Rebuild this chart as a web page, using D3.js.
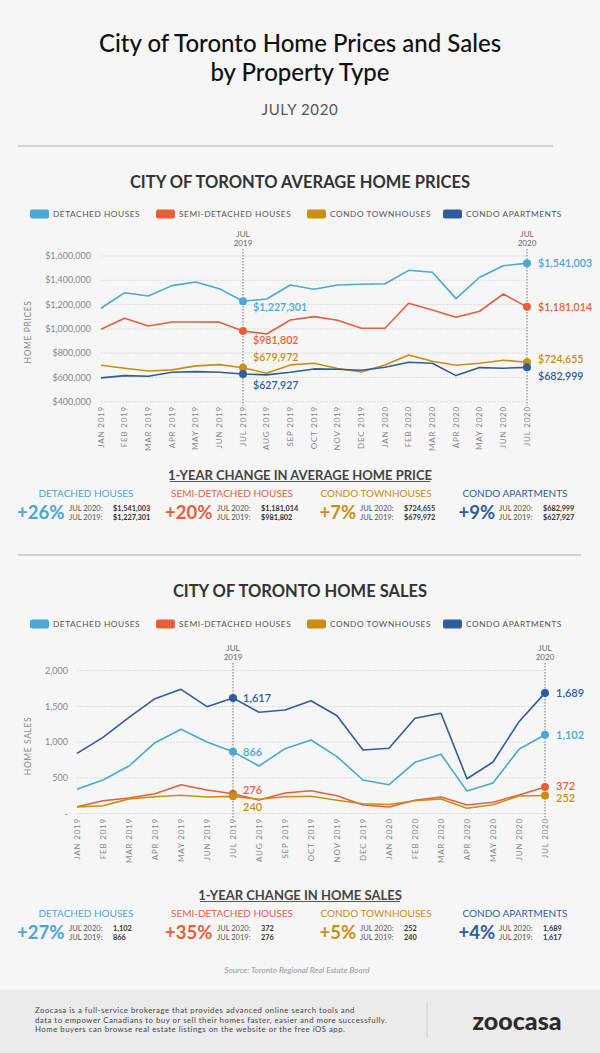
<!DOCTYPE html>
<html><head><meta charset="utf-8">
<script src="https://cdn.jsdelivr.net/npm/d3@7"></script>
<style>
html,body{margin:0;padding:0;background:#f6f6f6;}
svg{display:block;font-family:Lato,"Open Sans",sans-serif;}
</style></head>
<body>
<svg id="c" width="600" height="1053"></svg>
<script>
// ---------- DATA ----------
const months = ["JAN 2019","FEB 2019","MAR 2019","APR 2019","MAY 2019","JUN 2019","JUL 2019","AUG 2019","SEP 2019","OCT 2019","NOV 2019","DEC 2019","JAN 2020","FEB 2020","MAR 2020","APR 2020","MAY 2020","JUN 2020","JUL 2020"];
const seriesNames = ["DETACHED HOUSES","SEMI-DETACHED HOUSES","CONDO TOWNHOUSES","CONDO APARTMENTS"];
const seriesColors = ["#4aa8d3","#e55f3d","#c98e12","#2f5d9b"];

const priceDetached = [1170000,1298000,1271000,1356000,1386000,1331000,1227301,1246000,1361000,1326000,1361000,1367000,1372000,1482000,1466000,1249000,1425000,1520000,1541003];
const priceSemi     = [997000,1087000,1024000,1057000,1057000,1055000,981802,958000,1073000,1101000,1071000,1005000,1005000,1211000,1156000,1095000,1145000,1287000,1181014];
const priceTown     = [700000,676000,653000,662000,695000,705000,679972,634000,703000,717000,673000,645000,703000,785000,733000,700000,717000,742000,724655];
const priceApt      = [596000,615000,609000,643000,648000,643000,627927,621000,643000,670000,667000,659000,684000,725000,717000,615000,681000,676000,682999];

const salesDetached = [339,469,665,992,1179,1001,866,665,908,1029,796,469,403,717,829,315,427,899,1102];
const salesSemi     = [95,179,217,277,403,329,276,189,287,319,249,119,91,185,231,119,157,259,372];
const salesTown     = [90,109,205,235,255,231,240,199,235,241,185,137,125,179,203,73,123,245,252];
const salesApt      = [843,1067,1347,1608,1739,1496,1617,1417,1450,1580,1370,889,913,1333,1403,487,721,1286,1689];

const priceTicks = [400000,600000,800000,1000000,1200000,1400000,1600000];
const salesTicks = [0,500,1000,1500,2000];

const priceChange = ["+26%","+20%","+7%","+9%"];
const price2020 = ["$1,541,003","$1,181,014","$724,655","$682,999"];
const price2019 = ["$1,227,301","$981,802","$679,972","$627,927"];
const salesChange = ["+27%","+35%","+5%","+4%"];
const sales2020 = ["1,102","372","252","1,689"];
const sales2019 = ["866","276","240","1,617"];

// ---------- DRAW ----------
const svg = d3.select("#c");
const light = "#888";

svg.append("rect").attr("x",0).attr("y",990).attr("width",600).attr("height",63).attr("fill","#ebebeb");

function txt(x,y,s,o){
  const t = svg.append("text").attr("x",x).attr("y",y).attr("dy","0.35em").text(s);
  Object.entries(o||{}).forEach(([k,v])=>t.attr(k,v));
  return t;
}
txt(300,44,"City of Toronto Home Prices and Sales",{"text-anchor":"middle","font-size":24,"font-weight":500,fill:"#111"});
txt(300,73,"by Property Type",{"text-anchor":"middle","font-size":24,"font-weight":500,fill:"#111"});
txt(300,110,"JULY 2020",{"text-anchor":"middle","font-size":15,fill:"#555","letter-spacing":0.6});
svg.append("line").attr("x1",18).attr("x2",553).attr("y1",146).attr("y2",146).attr("stroke","#aaa").attr("stroke-width",1);

function legend(y){
  const xs=[30,156,307,443];
  seriesNames.forEach((n,i)=>{
    svg.append("rect").attr("x",xs[i]).attr("y",y-4.5).attr("width",19).attr("height",9).attr("rx",2).attr("fill",seriesColors[i]);
    txt(xs[i]+23,y,n,{"font-size":8.3,fill:"#555","letter-spacing":0.55});
  });
}

function chart(cfg){
  const x = d3.scalePoint().domain(months).range([cfg.x0,cfg.x1]);
  const y = d3.scaleLinear().domain(cfg.domain).range([cfg.yb,cfg.yt]);
  const g = svg.append("g");
  g.selectAll("line.grid").data(cfg.ticks).join("line")
    .attr("x1",cfg.x0).attr("x2",cfg.x1).attr("y1",d=>y(d)).attr("y2",d=>y(d))
    .attr("stroke","#dcdcdc").attr("stroke-width",1).attr("stroke-dasharray","2,1");
  g.selectAll("text.yl").data(cfg.ticks).join("text")
    .attr("x",cfg.ylx).attr("y",d=>y(d)).attr("dy","0.35em").attr("text-anchor","end")
    .attr("font-size",9).attr("fill",light).text(cfg.yfmt);
  g.append("text").attr("transform",`translate(28,${cfg.ytitleY}) rotate(-90)`).attr("dy","0.35em")
    .attr("text-anchor","middle").attr("font-size",8.5).attr("fill",light).attr("letter-spacing",0.6).text(cfg.ytitle);
  g.selectAll("text.xl").data(months).join("text")
    .attr("transform",d=>`translate(${x(d)},${cfg.xly}) rotate(-90)`).attr("dy","0.35em")
    .attr("text-anchor","end").attr("font-size",8).attr("fill",light).attr("letter-spacing",0.8).text(d=>d);
  ["JUL 2019","JUL 2020"].forEach(m=>{
    g.append("line").attr("x1",x(m)).attr("x2",x(m)).attr("y1",cfg.vTop).attr("y2",cfg.yb+4)
      .attr("stroke","#777").attr("stroke-width",1).attr("stroke-dasharray","1.5,1.5");
    g.append("text").attr("x",x(m)).attr("y",cfg.vTop-15).attr("dy","0.35em").attr("text-anchor","middle")
      .attr("font-size",8).attr("fill","#666").text("JUL");
    g.append("text").attr("x",x(m)).attr("y",cfg.vTop-6).attr("dy","0.35em").attr("text-anchor","middle")
      .attr("font-size",8).attr("fill","#666").text(m.slice(4));
  });
  const line = d3.line().x((d,i)=>x(months[i])).y(d=>y(d));
  cfg.series.forEach((s,i)=>{
    g.append("path").datum(s).attr("d",line).attr("fill","none").attr("stroke",seriesColors[i]).attr("stroke-width",1.6).attr("stroke-linejoin","round");
  });
  cfg.series.forEach((s,i)=>{
    [6,18].forEach(k=>{
      g.append("circle").attr("cx",x(months[k])).attr("cy",y(s[k])).attr("r",4).attr("fill",seriesColors[i]);
    });
  });
  cfg.series.forEach((s,i)=>{
    g.append("text").attr("x",x(months[6])+10).attr("y",cfg.lab19[i]).attr("dy","0.35em")
      .attr("font-size",cfg.labSize).attr("font-weight",600).attr("fill",seriesColors[i]).text(cfg.fmt(s[6]));
    g.append("text").attr("x",x(months[18])+cfg.rOff).attr("y",cfg.lab20[i]).attr("dy","0.35em")
      .attr("font-size",cfg.labSize).attr("font-weight",600).attr("fill",seriesColors[i]).text(cfg.fmt(s[18]));
  });
}

// ---- Chart 1 ----
txt(300,182,"CITY OF TORONTO AVERAGE HOME PRICES",{"text-anchor":"middle","font-size":16.5,"font-weight":700,fill:"#333"});
legend(214);
const fmtD = d=>"$"+d3.format(",")(d);
chart({x0:101,x1:527,yb:401.7,yt:256,domain:[400000,1600000],ticks:priceTicks,ylx:91,yfmt:fmtD,
  ytitle:"HOME PRICES",ytitleY:332,xly:406,vTop:249,series:[priceDetached,priceSemi,priceTown,priceApt],
  lab19:[307,340,357,385],lab20:[263.5,307.5,359.5,376],labSize:10.6,fmt:fmtD,rOff:11});

function summary(cfg){
  txt(300,cfg.y,cfg.title,{"text-anchor":"middle","font-size":13,"font-weight":700,fill:"#444"});
  svg.append("line").attr("x1",cfg.ul[0]).attr("x2",cfg.ul[1]).attr("y1",cfg.y+6.5).attr("y2",cfg.y+6.5).attr("stroke","#555").attr("stroke-width",1);
  const hx=[86,232,376,515], px=[17,165,319.5,458.5], jx=[69,217,360,499], vx=[113,261,404,543];
  seriesNames.forEach((n,i)=>{
    txt(hx[i],cfg.y+18,n,{"text-anchor":"middle","font-size":10,fill:seriesColors[i]});
    txt(px[i],cfg.y+38,cfg.ch[i],{"font-size":18.5,"font-weight":700,fill:seriesColors[i]});
    txt(jx[i],cfg.y+33.5,"JUL 2020:",{"font-size":7.5,fill:"#555"});
    txt(jx[i],cfg.y+42.5,"JUL 2019:",{"font-size":7.5,fill:"#555"});
    txt(vx[i],cfg.y+33.5,cfg.a[i],{"font-size":7.3,"font-weight":700,fill:"#333"});
    txt(vx[i],cfg.y+42.5,cfg.b[i],{"font-size":7.3,"font-weight":700,fill:"#333"});
  });
}
summary({y:475,title:"1-YEAR CHANGE IN AVERAGE HOME PRICE",ch:priceChange,a:price2020,b:price2019,ul:[170,430]});
svg.append("line").attr("x1",18).attr("x2",581).attr("y1",555).attr("y2",555).attr("stroke","#aaa").attr("stroke-width",1);

// ---- Chart 2 ----
txt(300,591,"CITY OF TORONTO HOME SALES",{"text-anchor":"middle","font-size":16.5,"font-weight":700,fill:"#333"});
legend(624);
chart({x0:77,x1:545,yb:813.5,yt:670.7,domain:[0,2000],ticks:salesTicks,ylx:68,yfmt:d=>d===0?"-":d3.format(",")(d),
  ytitle:"HOME SALES",ytitleY:746,xly:818,vTop:663,series:[salesDetached,salesSemi,salesTown,salesApt],
  lab19:[752,790,807,698],lab20:[735,786,798.5,693.5],labSize:11,fmt:d3.format(","),rOff:11});

summary({y:895,title:"1-YEAR CHANGE IN HOME SALES",ch:salesChange,a:sales2020,b:sales2019,ul:[200,400]});

txt(297,970,"Source: Toronto Regional Real Estate Board",{"text-anchor":"middle","font-size":8.2,"font-style":"italic",fill:"#999"});

// footer
["Zoocasa is a full-service  brokerage that provides advanced online  search tools and",
 "data to empower Canadians to buy or sell their homes faster, easier and more successfully.",
 "Home buyers can browse real estate listings on the website or the free iOS app."].forEach((s,i)=>{
  txt(35,1010.5+i*9.5,s,{"font-size":7.8,fill:"#444","letter-spacing":0.5});
});
svg.append("line").attr("x1",427).attr("x2",427).attr("y1",1003).attr("y2",1038).attr("stroke","#ccc");
txt(517,1021,"zoocasa",{"text-anchor":"middle","font-size":25,"font-weight":900,fill:"#2b2b2b"});
</script>
</body></html>
